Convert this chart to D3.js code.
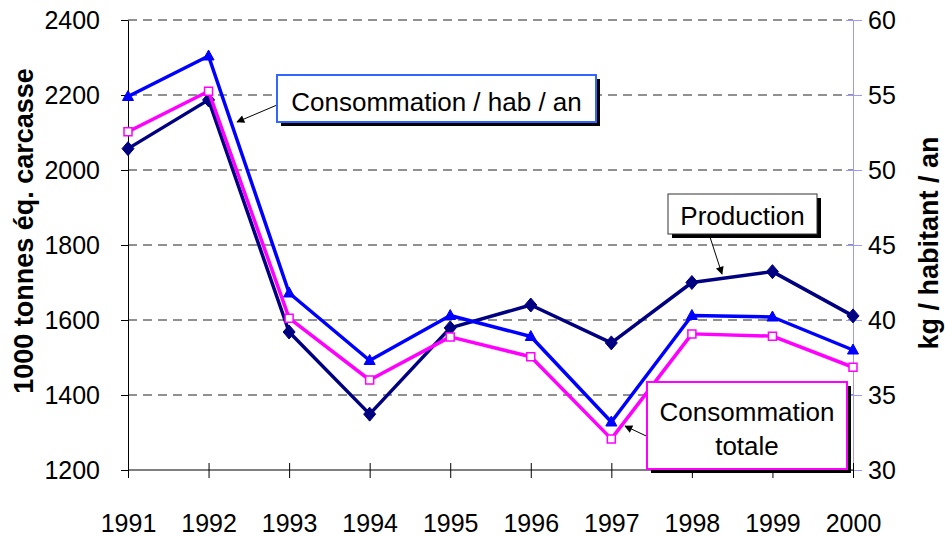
<!DOCTYPE html>
<html>
<head>
<meta charset="utf-8">
<script src="https://cdn.jsdelivr.net/npm/d3@7"></script>
<style>
  body { margin: 0; background: #fff; }
  svg text { font-family: "Liberation Sans", Arial, sans-serif; }
</style>
</head>
<body>
<div id="chart"></div>
<script>
// Data
const years = ["1991", "1992", "1993", "1994", "1995", "1996", "1997", "1998", "1999", "2000"];
const production = [2057, 2187, 1568, 1349, 1579, 1640, 1539, 1700, 1729, 1611];
const consoTotale = [2102, 2210, 1605, 1440, 1555, 1502, 1283, 1563, 1557, 1474];
const consoHab = [54.9, 57.6, 41.8, 37.3, 40.3, 38.9, 33.2, 40.3, 40.2, 38.0];
const leftTicks = [1200, 1400, 1600, 1800, 2000, 2200, 2400];
const rightTicks = [30, 35, 40, 45, 50, 55, 60];

const width = 945, height = 536;
const margin = { left: 128, right: 92, top: 20, bottom: 66 };

const svg = d3.select("#chart").append("svg")
    .attr("width", width)
    .attr("height", height);

const x = d3.scalePoint()
    .domain(years)
    .range([margin.left, width - margin.right]);

const yLeft = d3.scaleLinear()
    .domain([1200, 2400])
    .range([height - margin.bottom, margin.top]);

const yRight = d3.scaleLinear()
    .domain([30, 60])
    .range([height - margin.bottom, margin.top]);

const x0 = margin.left, x1 = width - margin.right;
const yBottom = height - margin.bottom;

// Dashed gridlines
svg.append("g")
    .selectAll("line")
    .data(leftTicks.filter(d => d > 1200))
    .enter().append("line")
    .attr("x1", x0).attr("x2", x1)
    .attr("y1", d => yLeft(d)).attr("y2", d => yLeft(d))
    .attr("stroke", "#222")
    .attr("stroke-width", 1)
    .attr("stroke-dasharray", "9,6");

// Left axis
const leftAxis = svg.append("g")
    .attr("transform", `translate(${x0},0)`)
    .call(d3.axisLeft(yLeft).tickValues(leftTicks).tickFormat(d3.format("d"))
        .tickSize(7).tickSizeOuter(0).tickPadding(21));
leftAxis.select(".domain").attr("stroke", "#000");
leftAxis.selectAll("text")
    .attr("font-size", 25)
    .attr("fill", "#000");

// Right axis (light blue)
const rightAxis = svg.append("g")
    .attr("transform", `translate(${x1},0)`)
    .call(d3.axisRight(yRight).tickValues(rightTicks).tickFormat(d3.format("d"))
        .tickSize(9).tickSizeOuter(0).tickPadding(6));
rightAxis.select(".domain").attr("stroke", "#9999ff");
rightAxis.selectAll(".tick line").attr("stroke", "#9999ff").attr("x1", -7);
rightAxis.selectAll("text")
    .attr("font-size", 25)
    .attr("fill", "#000");

// Bottom axis, ticks crossing the line
const bottomAxis = svg.append("g")
    .attr("transform", `translate(0,${yBottom})`)
    .call(d3.axisBottom(x).tickSize(8).tickSizeOuter(0).tickPadding(36));
bottomAxis.select(".domain").attr("stroke", "#000").attr("d", `M${x0},0H${x1}`);
bottomAxis.selectAll(".tick line").attr("y1", -7).attr("stroke", "#000");
bottomAxis.selectAll("text")
    .attr("font-size", 25)
    .attr("fill", "#000");

// Axis titles
svg.append("text")
    .attr("transform", `translate(33,231) rotate(-90)`)
    .attr("text-anchor", "middle")
    .attr("font-size", 27)
    .attr("font-weight", "bold")
    .text("1000 tonnes éq. carcasse");

svg.append("text")
    .attr("transform", `translate(938,243) rotate(-90)`)
    .attr("text-anchor", "middle")
    .attr("font-size", 27)
    .attr("font-weight", "bold")
    .text("kg / habitant / an");

// Series
const series = [
    { values: production, scale: yLeft, color: "#000080", marker: "diamond" },
    { values: consoTotale, scale: yLeft, color: "#ff00ff", marker: "square" },
    { values: consoHab, scale: yRight, color: "#0000ff", marker: "triangle" }
];

const markerPath = {
    diamond: "M0,-7L6,0L0,7L-6,0Z",
    square: "M-4,-4H4V4H-4Z",
    triangle: "M0,-6L5.5,4H-5.5Z"
};

series.forEach(s => {
    const line = d3.line()
        .x((d, i) => x(years[i]))
        .y(d => s.scale(d));

    svg.append("path")
        .datum(s.values)
        .attr("fill", "none")
        .attr("stroke", s.color)
        .attr("stroke-width", 3.5)
        .attr("stroke-linejoin", "round")
        .attr("d", line);

    svg.append("g")
        .selectAll("path")
        .data(s.values)
        .enter().append("path")
        .attr("transform", (d, i) => `translate(${x(years[i])},${s.scale(d)})`)
        .attr("d", markerPath[s.marker])
        .attr("fill", s.marker === "square" ? "#fff" : s.color)
        .attr("stroke", s.color)
        .attr("stroke-width", s.marker === "square" ? 1.5 : 1);
});

// Arrow marker for callouts
svg.append("defs").append("marker")
    .attr("id", "arrow")
    .attr("viewBox", "0 0 10 10")
    .attr("refX", 9).attr("refY", 5)
    .attr("markerWidth", 12).attr("markerHeight", 8)
    .attr("markerUnits", "userSpaceOnUse")
    .attr("orient", "auto")
    .append("path")
    .attr("d", "M0,0L10,5L0,10Z")
    .attr("fill", "#000");

// Callout boxes
const callouts = [
    { lines: ["Consommation / hab / an"], box: [277, 75, 319, 47], border: "#3366ff", bw: 2,
      baselines: [111], arrow: [277, 105, 237, 122] },
    { lines: ["Production"], box: [668, 194, 149, 40], border: "#333", bw: 1,
      baselines: [225], arrow: [709, 234, 722, 274] },
    { lines: ["Consommation", "totale"], box: [647, 382, 200, 87], border: "#ff00ff", bw: 2,
      baselines: [421, 455], arrow: [659, 442, 625, 426] }
];

callouts.forEach(c => {
    const [bx, by, bw, bh] = c.box;
    svg.append("line")
        .attr("x1", c.arrow[0]).attr("y1", c.arrow[1])
        .attr("x2", c.arrow[2]).attr("y2", c.arrow[3])
        .attr("stroke", "#000")
        .attr("stroke-width", 1)
        .attr("marker-end", "url(#arrow)");
    svg.append("rect")
        .attr("x", bx + 4).attr("y", by + 4)
        .attr("width", bw).attr("height", bh)
        .attr("fill", "#000");
    svg.append("rect")
        .attr("x", bx).attr("y", by)
        .attr("width", bw).attr("height", bh)
        .attr("fill", "#fff")
        .attr("stroke", c.border)
        .attr("stroke-width", c.bw);
    c.lines.forEach((t, i) => {
        svg.append("text")
            .attr("x", bx + bw / 2)
            .attr("y", c.baselines[i])
            .attr("text-anchor", "middle")
            .attr("font-size", 26)
            .attr("fill", "#000")
            .text(t);
    });
});
</script>
</body>
</html>
